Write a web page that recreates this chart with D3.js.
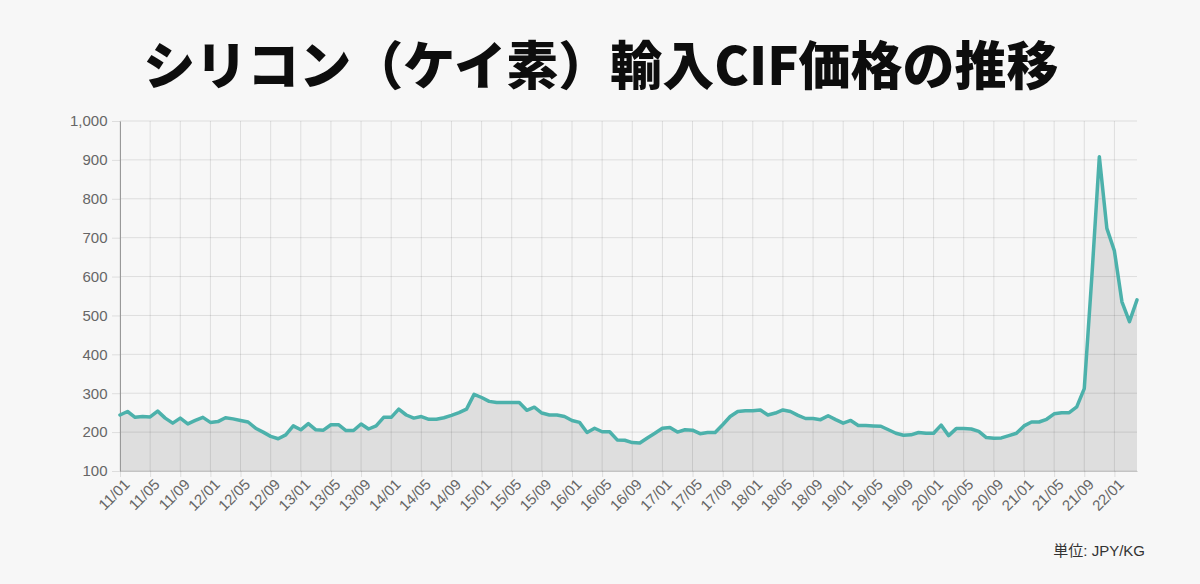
<!DOCTYPE html>
<html>
<head>
<meta charset="utf-8">
<script src="https://cdn.jsdelivr.net/npm/d3@7"></script>
<style>
  html, body { margin: 0; padding: 0; background: #f7f7f7; }
  svg { display: block; }
  .tick text { font-family: "Helvetica Neue", Arial, "Liberation Sans", sans-serif; fill: #666; font-size: 15px; }
</style>
</head>
<body>
<svg width="1200" height="584"></svg>
<script>
// 月次データ 2011/01 〜 2022/04
var startYear = 2011, startMonth = 1;
var prices = [
  244, 253, 238, 240, 239, 254, 236, 223, 236, 221, 230, 238,
  225, 227, 237, 234, 230, 226, 210, 200, 189, 183, 193, 216,
  206, 222, 206, 205, 219, 219, 204, 204, 221, 208, 216, 238,
  238, 259, 244, 236, 240, 233, 233, 237, 243, 250, 259, 297,
  289, 279, 276, 276, 276, 276, 256, 264, 249, 244, 244, 240,
  230, 225, 199, 210, 201, 201, 180, 179, 173, 172, 185, 197,
  210, 212, 200, 206, 205, 196, 199, 199, 219, 240, 253, 255,
  255, 257, 244, 249, 257, 253, 243, 235, 235, 232, 242, 232,
  223, 230, 217, 217, 216, 215, 206, 197, 192, 193, 199, 197,
  197, 218, 191, 209, 209, 208, 202, 186, 184, 185, 191, 197,
  216, 226, 226, 233, 247, 250, 250, 265, 312, 598, 908, 724,
  666, 535, 484, 540
];
var yTicks = [100, 200, 300, 400, 500, 600, 700, 800, 900, 1000];
var title = "シリコン（ケイ素）輸入CIF価格の推移";
var unitLabel = "単位: JPY/KG";

var labels = prices.map(function(d, i){
  var m = startMonth - 1 + i;
  var yy = (startYear + Math.floor(m / 12)) % 100;
  var mm = m % 12 + 1;
  return (yy < 10 ? "0" : "") + yy + "/" + (mm < 10 ? "0" : "") + mm;
});
var data = prices.map(function(d, i){ return {label: labels[i], value: d}; });
var tickLabels = labels.filter(function(d, i){ return i % 4 == 0; });

var svg = d3.select("svg"),
    margin = {top: 121, right: 63, bottom: 113, left: 120},
    width = +svg.attr("width") - margin.left - margin.right,
    height = +svg.attr("height") - margin.top - margin.bottom;

svg.append("text")
  .attr("x", 601)
  .attr("y", 85)
  .attr("text-anchor", "middle")
  .attr("font-family", "'Noto Sans CJK JP', sans-serif")
  .attr("font-weight", 900)
  .attr("font-size", 52)
  .attr("fill", "#0d0d0d")
  .text(title);

var g = svg.append("g").attr("transform", "translate(" + margin.left + "," + margin.top + ")");

var x = d3.scalePoint().domain(labels).range([0, width]);
var y = d3.scaleLinear().domain([100, 1000]).range([height, 0]);

// 面積
var area = d3.area()
  .x(function(d){ return x(d.label); })
  .y0(height)
  .y1(function(d){ return y(d.value); });
g.append("path")
  .datum(data)
  .attr("fill", "#dedede")
  .attr("d", area);

// グリッド
g.append("g")
  .selectAll("line.h")
  .data(yTicks)
  .enter().append("line")
    .attr("x1", 0).attr("x2", width)
    .attr("y1", function(d){ return y(d); })
    .attr("y2", function(d){ return y(d); })
    .attr("stroke", "rgba(0,0,0,0.1)").attr("stroke-width", 1);
g.append("g")
  .selectAll("line.v")
  .data(tickLabels)
  .enter().append("line")
    .attr("x1", function(d){ return x(d); })
    .attr("x2", function(d){ return x(d); })
    .attr("y1", 0).attr("y2", height)
    .attr("stroke", "rgba(0,0,0,0.1)").attr("stroke-width", 1);

// 軸
var xAxis = g.append("g")
  .attr("transform", "translate(0," + height + ")")
  .call(d3.axisBottom(x).tickValues(tickLabels).tickSize(6).tickSizeOuter(0));
xAxis.selectAll("text")
  .attr("text-anchor", "end")
  .attr("dx", "-0.2em")
  .attr("dy", "0.55em")
  .attr("transform", "rotate(-45)");
xAxis.selectAll(".tick line").attr("stroke", "rgba(0,0,0,0.1)");
xAxis.select(".domain").attr("stroke", "#c4c4c4");

var yAxis = g.append("g")
  .call(d3.axisLeft(y).tickValues(yTicks).tickSize(8).tickSizeOuter(0).tickFormat(d3.format(",")));
yAxis.selectAll(".tick line").attr("stroke", "rgba(0,0,0,0.1)");
yAxis.select(".domain").attr("stroke", "#999");
yAxis.selectAll("text").attr("dx", "-0.1em");

// 折れ線
var line = d3.line()
  .x(function(d){ return x(d.label); })
  .y(function(d){ return y(d.value); });
g.append("path")
  .datum(data)
  .attr("fill", "none")
  .attr("stroke", "#4cb1ab")
  .attr("stroke-width", 3.5)
  .attr("stroke-linejoin", "round")
  .attr("stroke-linecap", "round")
  .attr("d", line);

svg.append("text")
  .attr("x", 1145)
  .attr("y", 556)
  .attr("text-anchor", "end")
  .attr("font-family", "'Helvetica Neue', Arial, 'Noto Sans CJK JP', sans-serif")
  .attr("font-size", 15)
  .attr("fill", "#333")
  .text(unitLabel);
</script>
</body>
</html>
